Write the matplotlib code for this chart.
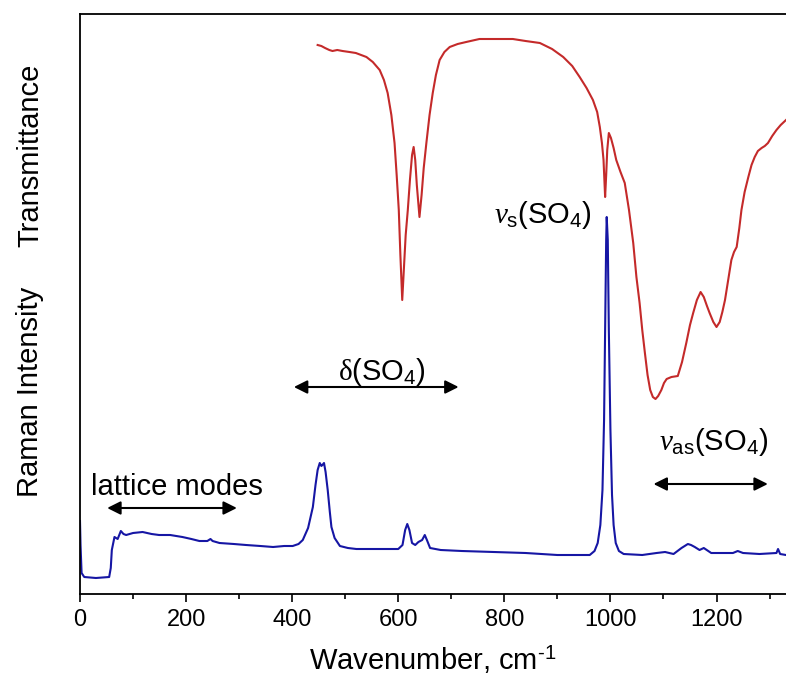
import matplotlib
matplotlib.use('Agg')
from matplotlib import pyplot as plt

plt.rcParams['font.family'] = ['Liberation Sans', 'DejaVu Sans']
plt.rcParams['mathtext.fontset'] = 'custom'
plt.rcParams['mathtext.rm'] = 'Liberation Sans'
plt.rcParams['mathtext.it'] = 'Liberation Serif:italic'
plt.rcParams['mathtext.sf'] = 'Liberation Serif'

# Raman spectrum (blue), arbitrary units
raman_wn = [0, 1, 3, 8, 30, 55, 58, 60, 65, 71, 77, 82, 87, 100, 118, 135, 149, 170, 193,
            210, 225, 240, 246, 250, 263, 290, 313, 340, 364, 385, 401, 412, 420, 430, 439,
            444, 448, 452, 455, 457, 460, 463, 467, 471, 474, 480, 490, 505, 521, 550, 580,
            600, 608, 613, 617, 621, 626, 632, 638, 645, 650, 654, 660, 680, 720, 780, 840,
            900, 940, 961, 970, 976, 981, 985, 988, 990, 992, 993, 995, 997, 1000, 1003,
            1006, 1010, 1016, 1025, 1060, 1087, 1103, 1119, 1134, 1146, 1152, 1159, 1168,
            1176, 1190, 1231, 1240, 1250, 1281, 1313, 1316, 1320, 1331]
raman_px = [521, 545, 573, 577, 578, 577, 568, 550, 537, 539, 531, 534, 535, 533, 532, 534,
            535, 535, 537, 539, 541, 541, 539, 541, 543, 544, 545, 546, 547, 546, 546, 544,
            540, 528, 507, 485, 470, 463, 466, 465, 463, 472, 490, 512, 527, 538, 546, 548,
            549, 549, 549, 549, 545, 530, 524, 530, 543, 545, 542, 540, 535, 540, 548, 550,
            551, 552, 553, 555, 555, 555, 551, 543, 525, 490, 420, 330, 240, 217, 240, 330,
            430, 495, 525, 543, 551, 554, 555, 553, 552, 554, 548, 544, 545, 547, 550, 548,
            553, 553, 551, 553, 554, 553, 549, 554, 555]
raman = [594 - p for p in raman_px]

# IR transmittance (red)
ir_wn = [448, 455, 462, 470, 476, 485, 495, 508, 520, 530, 540, 552, 565, 573, 580, 587,
         593, 597, 601, 604, 607.5, 611, 614, 618, 622, 626, 629, 632, 635, 640, 644, 648,
         653, 659, 665, 671, 678, 687, 697, 712, 728, 753, 785, 816, 840, 867, 890, 911,
         928, 942, 955, 967, 975, 980, 984, 987, 990, 992, 994, 997, 1001, 1006, 1011,
         1019, 1027, 1035, 1043, 1049, 1055, 1060, 1065, 1070, 1075, 1080, 1085, 1090,
         1096, 1101, 1106, 1115, 1127, 1135, 1143, 1150, 1156, 1163, 1170, 1176, 1182,
         1187, 1194, 1200, 1206, 1211, 1216, 1222, 1228, 1233, 1238, 1243, 1247, 1253,
         1260, 1266, 1272, 1278, 1285, 1291, 1297, 1305, 1313, 1321, 1329, 1331]
ir_px = [45, 46, 48, 50, 51, 50, 51, 52, 53, 55, 57, 62, 70, 80, 93, 115, 143, 175, 210,
         255, 300, 265, 235, 210, 180, 155, 147, 160, 185, 217, 195, 168, 143, 115, 93, 75,
         60, 52, 47, 44, 42, 39, 39, 39, 41, 43, 49, 57, 66, 77, 88, 100, 112, 127, 143,
         160, 197, 175, 150, 133, 138, 148, 160, 172, 183, 210, 243, 277, 303, 330, 353,
         375, 390, 397, 399, 396, 390, 383, 379, 377, 376, 362, 343, 325, 313, 300, 292,
         297, 306, 313, 322, 327, 322, 312, 300, 280, 260, 252, 247, 228, 210, 192, 177,
         165, 157, 151, 148, 146, 143, 136, 130, 125, 121, 120]
ir = [594 - p for p in ir_px]

fig = plt.figure(figsize=(7.86, 6.83), dpi=100)
ax = fig.add_axes([80 / 786, 89 / 683, 706 / 786, 580 / 683])

ax.plot(raman_wn, raman, color='#1616a4', lw=1.5)
ax.plot(ir_wn, ir, color='#c42a2a', lw=1.5)

ax.set_xlim(0, 1331)
ax.set_ylim(0, 580)
ax.set_yticks([])
ax.set_xticks(range(0, 1400, 200))
ax.set_xticks(range(100, 1400, 200), minor=True)
ax.tick_params(axis='x', which='major', length=6, width=1.2, labelsize=17, pad=5)
ax.tick_params(axis='x', which='minor', length=3.5, width=1.2)
for s in ['left', 'top', 'bottom']:
    ax.spines[s].set_linewidth(1.3)
ax.spines['right'].set_visible(False)

ax.set_xlabel(r'Wavenumber, cm$^{\text{-1}}$', fontsize=21, labelpad=9)
fig.text(30 / 786, 1 - 392 / 683, 'Raman Intensity', rotation=90, fontsize=21,
         ha='center', va='center')
fig.text(30 / 786, 1 - 155 / 683, 'Transmittance', rotation=90, fontsize=21,
         ha='center', va='center')

arrow = dict(arrowstyle='<|-|>', color='black', lw=1.5, mutation_scale=20)
ax.annotate('', xy=(46, 86), xytext=(301, 86), arrowprops=arrow)
ax.annotate('', xy=(398, 207), xytext=(719, 207), arrowprops=arrow)
ax.annotate('', xy=(1076, 110), xytext=(1302, 110), arrowprops=arrow)

ax.text(183, 99, 'lattice modes', fontsize=21, ha='center', va='baseline')
ax.text(570, 214, r'$\mathsf{δ}$(SO$_4$)', fontsize=21, ha='center', va='baseline')
ax.text(965, 371, r'$\nu_\mathrm{s}$(SO$_4$)', fontsize=21, ha='right', va='baseline')
ax.text(1195, 144, r'$\nu_\mathrm{as}$(SO$_4$)', fontsize=21, ha='center', va='baseline')

plt.savefig('out.png', dpi=100)
